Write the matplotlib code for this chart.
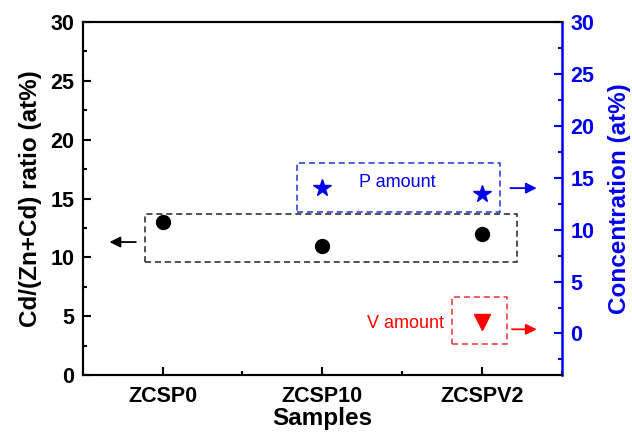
import matplotlib
matplotlib.use("Agg")
import matplotlib.pyplot as plt
from matplotlib.patches import Rectangle
from matplotlib.ticker import MultipleLocator

plt.rcParams['font.family'] = ['Liberation Sans', 'DejaVu Sans']
plt.rcParams['font.weight'] = 'bold'

samples = ["ZCSP0", "ZCSP10", "ZCSPV2"]
x_pos = [1, 2, 3]
cd_ratio = [13.0, 11.0, 12.0]
p_x = [2, 3]
p_amount = [14.0, 13.4]
v_x = [3]
v_amount = [1.1]

fig = plt.figure(figsize=(6.32, 4.32), dpi=100)
ax = fig.add_axes([0.131, 0.132, 0.758, 0.817])
ax2 = ax.twinx()

ax.plot(x_pos, cd_ratio, 'o', color='black', markersize=10, linestyle='none')
ax2.plot(p_x, p_amount, '*', color='#0000ee', markersize=13, linestyle='none')
ax2.plot(v_x, v_amount, 'v', color='red', markersize=11, linestyle='none')

ax.set_xlim(0.5, 3.5)
ax.set_ylim(0, 30)
ax2.set_ylim(-4, 30)

ax.set_xticks(x_pos)
ax.set_xticklabels(samples)
ax.xaxis.set_minor_locator(MultipleLocator(0.5))
ax.yaxis.set_major_locator(MultipleLocator(5))
ax.yaxis.set_minor_locator(MultipleLocator(2.5))
ax2.yaxis.set_major_locator(MultipleLocator(5))
ax2.yaxis.set_minor_locator(MultipleLocator(2.5))

ax.tick_params(axis='both', which='major', direction='in', length=6, width=1.5, labelsize=15.5, top=False)
ax.tick_params(axis='both', which='minor', direction='in', length=3, width=1.5, top=False)
ax.tick_params(axis='x', pad=8)
ax.tick_params(axis='y', pad=6)
ax2.tick_params(axis='y', which='major', direction='in', length=6, width=1.5, labelsize=15.5,
                colors='#0000ee', pad=6)
ax2.tick_params(axis='y', which='minor', direction='in', length=3, width=1.5, colors='#0000ee')

for s in ['left', 'bottom', 'top']:
    ax.spines[s].set_linewidth(1.5)
    ax2.spines[s].set_linewidth(1.5)
ax2.spines['right'].set_color('#0000ee')
ax2.spines['right'].set_linewidth(1.8)
ax.spines['right'].set_visible(False)

for lab in ax.get_xticklabels() + ax.get_yticklabels() + ax2.get_yticklabels():
    lab.set_fontweight('bold')

ax.set_xlabel("Samples", fontsize=17.5, fontweight='bold', labelpad=0)
ax.set_ylabel("Cd/(Zn+Cd) ratio (at%)", fontsize=17.5, fontweight='bold', labelpad=6)
ax2.set_ylabel("Concentration (at%)", fontsize=17.5, fontweight='bold', color='#0000ee', labelpad=10)

# dashed boxes
ax.add_patch(Rectangle((0.888, 9.6), 3.218 - 0.888, 13.68 - 9.6, fill=False,
                       edgecolor='#222222', linestyle=(0, (4, 2.5)), linewidth=1.1))
ax2.add_patch(Rectangle((1.840, 11.67), 3.112 - 1.840, 16.4 - 11.67, fill=False,
                        edgecolor='#2233dd', linestyle=(0, (4, 2.5)), linewidth=1.1))
ax2.add_patch(Rectangle((2.811, -1.06), 3.155 - 2.811, 3.47 + 1.06, fill=False,
                        edgecolor='#ee3333', linestyle=(0, (4, 2.5)), linewidth=1.1))

# labels
ax2.text(2.47, 14.5, "P amount", color='#0000ee', fontsize=13, fontweight='normal',
         ha='center', va='center')
ax2.text(2.52, 0.95, "V amount", color='red', fontsize=13, fontweight='normal',
         ha='center', va='center')

# arrows
ax.annotate("", xy=(0.65, 11.3), xytext=(0.85, 11.3),
            arrowprops=dict(arrowstyle='-|>', color='black', lw=1.3, mutation_scale=16))
ax2.annotate("", xy=(3.36, 14.0), xytext=(3.16, 14.0),
             arrowprops=dict(arrowstyle='-|>', color='#0000ee', lw=1.3, mutation_scale=16))
ax2.annotate("", xy=(3.36, 0.4), xytext=(3.17, 0.4),
             arrowprops=dict(arrowstyle='-|>', color='red', lw=1.3, mutation_scale=16))

fig.savefig("out.png", dpi=100)
